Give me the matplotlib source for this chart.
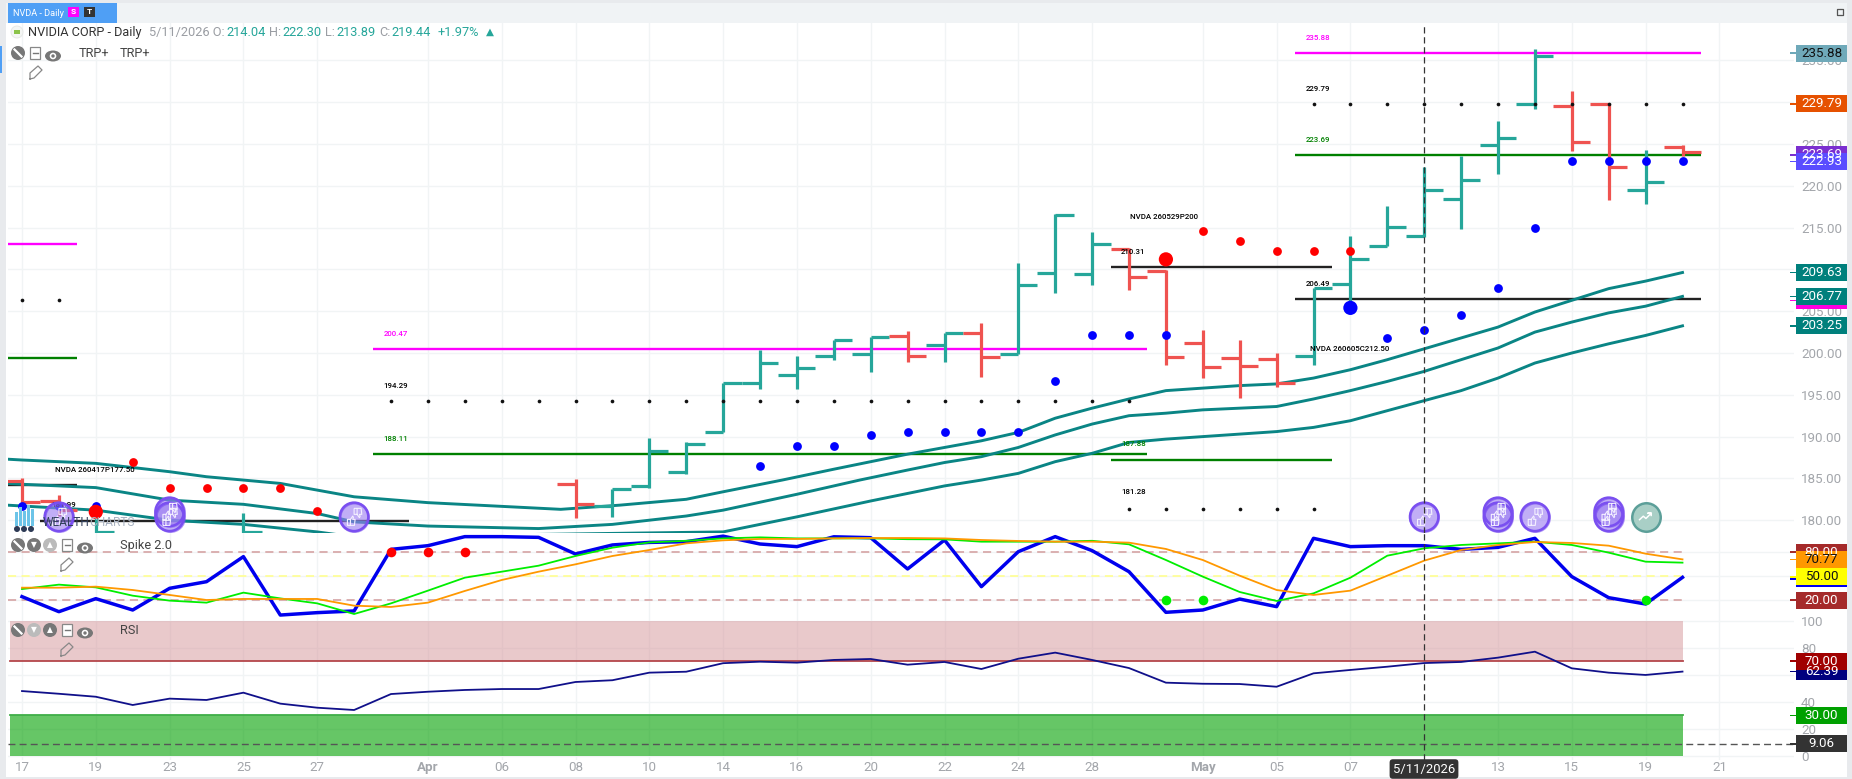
"""
NVDA daily chart with Spike 2.0 and RSI panes, wealthcharts style.
"""

import matplotlib

matplotlib.use("Agg")
import matplotlib.pyplot as plt
import numpy as np
from matplotlib.patches import Circle, Ellipse, Rectangle
from matplotlib.path import Path

plt.rcParams["font.family"] = ["Roboto", "DejaVu Sans"]

W, H = 1852, 779
X0, DX = 22.0, 36.9  # pixel position of bar 0, pixels per bar
PLOT_LEFT, PLOT_RIGHT = 8, 1794
PRICE_TOP, PRICE_BOTTOM = 23, 533
SPIKE_BOTTOM = 620
RSI_BOTTOM = 760

TEAL = "#26a69a"
RED = "#ef5350"
MA_COLOR = "#0a8585"
GRID = "#f1f4f5"
GREY_TXT = "#a3a6ab"

# -- tick labels --------------------------------------------------------------
tick_idx = [0, 2, 4, 6, 8, 11, 13, 15, 17, 19, 21, 23, 25, 27, 29, 32, 34, 36, 40, 42, 44, 46]
tick_labels = ["17", "19", "23", "25", "27", "Apr", "06", "08", "10", "14", "16", "20",
               "22", "24", "28", "May", "05", "07", "13", "15", "19", "21"]

# -- OHLC, bars 0-45 (nan = hidden behind the lower panes) --------------------
nan = float("nan")
opens = [184.7, 182.3, 178.0, nan, nan, nan, 178.0, nan, nan, nan, nan, nan, nan, nan, nan, 184.3,
         181.7, 184.1, 185.8, 190.6, 196.4, 197.4, 199.7, 199.9, 202.0, 201.0, 202.4, 199.9, 209.6,
         209.4, 212.5, 209.8, 201.2, 199.4, 199.3, 199.7, 208.2, 212.8, 214.04, 218.4, 224.9, 229.8,
         229.6, 229.8, 219.5, 224.6]
highs = [185.0, 183.0, 180.9, nan, nan, nan, 180.9, nan, nan, nan, nan, nan, nan, nan, nan, 184.9,
         183.7, 189.8, 189.4, 196.4, 200.3, 199.7, 201.5, 201.9, 202.6, 202.4, 203.6, 210.8, 216.6,
         214.5, 212.6, 209.9, 202.8, 201.5, 200.0, 207.8, 214.0, 217.6, 222.30, 223.6, 227.7, 236.4,
         231.3, 229.8, 224.3, 224.9]
lows = [182.0, 180.5, 178.0, nan, nan, nan, 178.0, nan, nan, nan, nan, nan, nan, nan, nan, 180.3,
        180.4, 183.9, 185.5, 190.6, 195.7, 195.7, 199.2, 197.7, 198.9, 198.9, 197.1, 199.9, 207.2,
        208.1, 207.5, 198.6, 197.0, 194.6, 195.9, 198.6, 206.1, 212.8, 213.89, 214.8, 221.4, 229.2,
        224.2, 218.3, 217.8, 223.6]
closes = [182.2, 181.2, 178.6, nan, nan, nan, 178.6, nan, nan, nan, nan, nan, nan, nan, nan, 181.9,
          183.7, 188.3, 189.1, 196.4, 198.8, 198.2, 201.5, 201.9, 199.7, 202.4, 199.5, 208.1, 216.5,
          213.0, 209.1, 199.5, 198.3, 198.4, 196.4, 207.8, 211.3, 215.1, 219.44, 220.7, 225.7, 235.5,
          225.2, 222.2, 220.4, 224.1]

# -- moving average band ------------------------------------------------------
ma_upper_x = [-0.4, 0, 2, 4, 5, 7, 9, 11, 14.6, 16.2, 18, 19, 20.6, 22, 24, 26, 27, 28, 29, 30, 31,
              32, 33, 34, 35, 36, 37, 38, 39, 40, 41, 42, 43, 44, 45]
ma_upper = [187.3, 187.2, 186.8, 185.8, 185.2, 184.4, 182.8, 182.1, 181.3, 181.8, 182.5, 183.4, 184.8,
            186.1, 187.9, 189.5, 190.5, 192.2, 193.4, 194.5, 195.5, 195.8, 196.1, 196.3, 197.0, 198.0,
            199.2, 200.5, 201.8, 203.1, 204.9, 206.3, 207.7, 208.6, 209.63]
ma_mid_x = [-0.4, 0, 2, 4, 6, 8, 9, 11, 14, 16, 18, 19, 21, 22.7, 24, 25, 26, 27, 28, 29, 30, 31, 32,
            33, 34, 35, 36, 37, 38, 39, 40, 41, 42, 43, 44, 45]
ma_mid = [184.4, 184.3, 183.9, 182.4, 181.9, 180.8, 179.8, 179.3, 179.0, 179.5, 180.5, 181.2, 183.1,
          184.8, 186.0, 186.9, 187.6, 188.7, 190.2, 191.5, 192.5, 192.8, 193.2, 193.4, 193.6, 194.5,
          195.5, 196.6, 197.8, 199.2, 200.6, 202.5, 203.7, 204.8, 205.6, 206.77]
ma_low_x = [-0.4, 0, 2, 4, 6, 8, 9, 19, 21, 23, 25, 26, 27, 28, 29, 30, 31, 32, 33, 34, 35, 36, 37,
            38, 39, 40, 41, 42, 43, 44, 45]
ma_low = [181.8, 181.7, 181.2, 180.0, 179.5, 178.6, 178.0, 178.6, 180.4, 182.3, 184.1, 184.8, 185.6,
          187.0, 188.0, 189.3, 189.7, 190.0, 190.3, 190.6, 191.1, 191.9, 193.1, 194.3, 195.5, 197.0,
          198.8, 200.0, 201.1, 202.1, 203.25]

# -- dots on the price pane ---------------------------------------------------
blue_idx = [0, 1, 2, 20, 21, 22, 23, 24, 25, 26, 27, 28, 29, 30, 31, 37, 38, 39, 40, 41, 42, 43, 44, 45]
blue_val = [181.7, 181.7, 181.7, 186.5, 188.9, 188.9, 190.2, 190.6, 190.6, 190.6, 190.6, 196.6, 202.1,
            202.1, 202.1, 201.8, 202.8, 204.5, 207.8, 215.0, 222.93, 222.93, 222.93, 222.93]
red_idx = [3, 4, 5, 6, 7, 8, 32, 33, 34, 35, 36]
red_val = [187.0, 183.9, 183.9, 183.9, 183.9, 181.1, 214.6, 213.4, 212.2, 212.2, 212.2]
big_idx = [2, 31, 36]
big_val = [181.0, 211.2, 205.4]
big_col = ["#ff0000", "#ff0000", "#0000ff"]
dots_idx = [0, 1] + list(range(10, 31)) + list(range(30, 36)) + list(range(35, 46))
dots_val = [206.3] * 2 + [194.29] * 21 + [181.28] * 6 + [229.79] * 11

# level segments: start bar, end bar, price, colour
seg_start = [-0.4, -0.4, 0.5, -0.4, 9.5, 9.5, 29.5, 29.5, 34.5, 34.5, 34.5]
seg_end = [1.5, 1.5, 10.5, 1.5, 30.5, 30.5, 35.5, 35.5, 45.5, 45.5, 45.5]
seg_val = [213.0, 184.2, 179.9, 199.4, 200.47, 187.9, 210.25, 187.2, 235.88, 206.45, 223.69]
seg_col = ["#ff00ff", "#222222", "#222222", "#008000", "#ff00ff", "#008000", "#222222", "#008000",
           "#ff00ff", "#222222", "#008000"]

# small level captions
cap_text = ["200.47", "194.29", "188.11", "210.31", "187.88", "181.28", "235.88", "229.79", "223.69",
            "206.49", "NVDA 260605C212.50", "NVDA 260529P200", "NVDA 260417P177.50", "181.99"]
cap_idx = [9.8, 9.8, 9.8, 29.78, 29.78, 29.78, 34.8, 34.8, 34.8, 34.8, 34.9, 30.03, 0.9, 0.8]
cap_val = [202.3, 196.1, 189.7, 212.1, 189.1, 183.4, 237.7, 231.6, 225.5, 208.3, 200.5, 216.3, 186.0, 181.8]
cap_col = ["#ff00ff", "black", "#008000", "black", "#008000", "black", "#ff00ff", "black", "#008000",
           "black", "black", "black", "black", "black"]

# signal bubbles
bubble_idx = [1, 4, 4, 9, 38, 40, 40, 41, 43, 43]
bubble_val = [180.4, 181.0, 180.4, 180.4, 180.4, 181.0, 180.4, 180.4, 181.0, 180.4]
trend_idx = [44]
trend_val = [180.4]

# -- Spike 2.0 ----------------------------------------------------------------
spike_blue = [24.2, 5.4, 21.7, 7.5, 34.6, 42.9, 74.2, 1.2, 4.2, 6.3, 83.3, 87.9, 99.2, 99.2, 98.3,
              77.5, 88.8, 92.0, 92.9, 99.8, 90.0, 86.7, 99.0, 97.9, 58.8, 95.0, 36.7, 80.4, 99.2,
              81.7, 55.4, 4.6, 7.5, 21.2, 11.7, 97.1, 86.7, 87.9, 87.9, 83.3, 85.8, 97.1, 49.2,
              22.9, 15.0, 48.3]
spike_green = [33.7, 39.2, 35.8, 25.4, 19.2, 16.7, 29.2, 22.0, 15.8, 2.5, 15.8, 31.7, 47.9, 55.4, 62.9,
               75.0, 85.4, 92.0, 94.0, 97.0, 98.3, 97.0, 97.0, 97.0, 96.0, 95.8, 92.9, 92.9, 92.9,
               94.0, 89.6, 70.0, 49.2, 30.0, 18.8, 28.3, 47.9, 75.4, 84.6, 88.8, 90.8, 92.9, 88.8,
               79.2, 67.9, 66.7]
spike_orange = [35.4, 35.4, 36.7, 32.5, 26.3, 20.0, 21.3, 21.3, 21.3, 12.9, 11.3, 16.7, 31.3, 45.0, 55.4,
                64.6, 75.0, 82.5, 90.8, 94.6, 96.3, 96.3, 97.0, 97.5, 97.5, 97.0, 95.0, 93.8, 92.9,
                92.9, 91.7, 83.8, 70.0, 50.4, 32.5, 26.3, 31.7, 50.4, 69.2, 82.5, 88.8, 92.5, 91.3,
                87.9, 77.9, 70.77]
spike_red_idx = [10, 11, 12]
spike_red_val = [80, 80, 80]
spike_green_idx = [31, 32, 44]
spike_green_val = [20, 20, 20]

# -- RSI ----------------------------------------------------------------------
rsi = [48.0, 46.0, 43.8, 37.7, 42.4, 41.4, 46.8, 38.7, 35.7, 34.0, 45.8, 47.5, 48.8, 49.5, 49.5, 54.7,
       56.0, 61.6, 62.3, 68.6, 69.7, 69.0, 71.0, 71.7, 67.5, 69.5, 64.3, 71.9, 76.4, 71.0, 65.0,
       54.2, 53.4, 53.2, 51.2, 61.1, 63.6, 66.0, 68.7, 69.5, 72.7, 77.1, 64.8, 61.6, 59.9, 62.39]

# right hand value flags: value, text, background, text colour (back to front)
price_flags = [(235.88, "235.88", "#6fa9b9", "#111111"), (229.79, "229.79", "#e65100", "white"),
               (223.69, "223.69", "#7b2fd0", "white"), (222.93, "222.93", "#5a4dff", "white"),
               (209.63, "209.63", "#00807c", "white"), (206.3, "", "#ff00e0", "white"),
               (206.77, "206.77", "#00807c", "white"), (203.25, "203.25", "#00807c", "white")]
spike_flags = [(80.0, "80.00", "#a52a2a", "white"), (70.77, "70.77", "#ff9800", "#111111"),
               (46.5, "", "#0000ee", "white"), (49.0, "50.00", "#ffff00", "#111111"),
               (20.0, "20.00", "#a52a2a", "white")]
rsi_flags = [(62.39, "62.39", "#00007f", "white"), (70.0, "70.00", "#a00000", "white"),
             (30.0, "30.00", "#00a000", "white"), (9.06, "9.06", "#333333", "white")]

fig = plt.figure(figsize=(W / 100, H / 100), dpi=100, facecolor="white")


def pane(top, bottom, ylim):
    ax = fig.add_axes([PLOT_LEFT / W, 1 - bottom / H, (PLOT_RIGHT - PLOT_LEFT) / W, (bottom - top) / H])
    ax.set_xlim((PLOT_LEFT - X0) / DX, (PLOT_RIGHT - X0) / DX)
    ax.set_ylim(*ylim)
    ax.patch.set_alpha(0)
    for side in ax.spines.values():
        side.set_visible(False)
    ax.set_xticks(tick_idx)
    ax.set_xticklabels([])
    ax.yaxis.tick_right()
    ax.tick_params(length=0, labelsize=9.6, labelcolor=GREY_TXT, pad=5)
    ax.grid(True, color=GRID, linewidth=1)
    ax.set_axisbelow(True)
    return ax


def price_y(px):
    return 225 - (px - 144) / 8.36


def spike_y(px):
    return 50 + (576 - px) / 0.8


def rsi_y(px):
    return (756 - px) / 1.353


ax_p = pane(PRICE_TOP, PRICE_BOTTOM, (price_y(PRICE_BOTTOM), price_y(PRICE_TOP)))
ax_s = pane(PRICE_BOTTOM, SPIKE_BOTTOM, (spike_y(SPIKE_BOTTOM), spike_y(PRICE_BOTTOM)))
ax_r = pane(SPIKE_BOTTOM, RSI_BOTTOM, (rsi_y(RSI_BOTTOM), rsi_y(SPIKE_BOTTOM)))

# -- price pane ---------------------------------------------------------------
ax_p.set_yticks(np.arange(180, 240, 5))
ax_p.set_yticklabels([f"{v:.2f}" for v in np.arange(180, 240, 5)])

ax_p.hlines(seg_val, seg_start, seg_end, colors=seg_col, linewidth=1.7, zorder=2)

ax_p.plot(ma_upper_x, ma_upper, color=MA_COLOR, linewidth=2.1, zorder=3)
ax_p.plot(ma_mid_x, ma_mid, color=MA_COLOR, linewidth=2.1, zorder=3)
ax_p.plot(ma_low_x, ma_low, color=MA_COLOR, linewidth=2.1, zorder=3)

for i in range(len(opens)):
    if np.isnan(opens[i]):
        continue
    col = TEAL if closes[i] >= opens[i] else RED
    ax_p.vlines(i, lows[i], highs[i], color=col, linewidth=2.3, zorder=4)
    ax_p.hlines(opens[i], i - 0.5, i, color=col, linewidth=2.3, zorder=4)
    ax_p.hlines(closes[i], i, i + 0.5, color=col, linewidth=2.3, zorder=4)

ax_p.scatter(dots_idx, dots_val, s=7, color="#111111", zorder=5, linewidths=0)
ax_p.scatter(blue_idx, blue_val, s=40, color="#0000ff", zorder=6, linewidths=0)
ax_p.scatter(red_idx, red_val, s=40, color="#ff0000", zorder=6, linewidths=0)
ax_p.scatter(big_idx, big_val, s=105, color=big_col, zorder=6, linewidths=0)

for t, i, v, c in zip(cap_text, cap_idx, cap_val, cap_col):
    ax_p.text(i, v, t, color=c, fontsize=5.7, fontweight="medium", ha="left", va="center", zorder=7)

# signal bubbles with thumbs up / thumbs down glyph
thumb_up = [(-1.0, -1.275), (-1.0, -0.375), (-0.55, -0.375), (-0.2, 0.125), (-0.1, -0.075), (-0.2, -0.375),
            (0.15, -0.375), (0.05, -1.275), (-1.0, -1.275), (-0.55, -1.275), (-0.55, -0.375)]
thumb_dn = [(x + 1.0, -y) for x, y in thumb_up]
thumb_codes = [Path.MOVETO] + [Path.LINETO] * 8 + [Path.MOVETO, Path.LINETO]
thumbs = Path(thumb_up + thumb_dn, thumb_codes + thumb_codes)
ax_p.scatter(bubble_idx, bubble_val, s=420, facecolor="#9b7df2", edgecolor="#7a4ff0", alpha=0.62,
             linewidths=1.8, zorder=8)
ax_p.scatter(bubble_idx, bubble_val, s=420, facecolor="none", edgecolor="#7a4ff0",
             linewidths=1.8, zorder=8)
ax_p.scatter(bubble_idx, bubble_val, s=150, marker=thumbs, facecolor="none", edgecolor="#f4f0ff",
             linewidths=0.8, zorder=9)
trend = Path([(-1, -0.5), (-0.35, 0.1), (0.05, -0.25), (0.85, 0.55), (0.35, 0.55), (0.85, 0.55), (0.85, 0.1)])
ax_p.scatter(trend_idx, trend_val, s=420, facecolor="#a9cfc6", edgecolor="#5c9f99", linewidths=1.8, zorder=8)
ax_p.scatter(trend_idx, trend_val, s=90, marker=trend, facecolor="none", edgecolor="white",
             linewidths=1.1, zorder=9)

# -- spike pane ---------------------------------------------------------------
ax_s.set_yticks([20, 50, 80])
ax_s.set_yticklabels([])
ax_s.set_zorder(2)
ax_s.patch.set_facecolor("white")
ax_s.patch.set_alpha(1)
dash = (0, (4.5, 3))
band_end = (45 * DX + X0 - PLOT_LEFT) / (PLOT_RIGHT - PLOT_LEFT)
ax_s.axhline(80, color="#d8aaaa", linewidth=1.3, linestyle=dash, xmax=band_end)
ax_s.axhline(20, color="#d8aaaa", linewidth=1.3, linestyle=dash, xmax=band_end)
ax_s.axhline(50, color="#ffff99", linewidth=1.3, linestyle=dash, xmax=band_end)
xs = np.arange(len(spike_blue))
ax_s.plot(xs, spike_blue, color="#0000ee", linewidth=2.5, zorder=3)
ax_s.plot(xs, spike_green, color="#00ee00", linewidth=1.3, zorder=4)
ax_s.plot(xs, spike_orange, color="#ff9800", linewidth=1.3, zorder=4)
ax_s.scatter(spike_red_idx, spike_red_val, s=48, color="#ff0000", zorder=5, linewidths=0)
ax_s.scatter(spike_green_idx, spike_green_val, s=48, color="#00ee00", zorder=5, linewidths=0)

# -- RSI pane -----------------------------------------------------------------
ax_r.set_yticks([0, 20, 40, 60, 80, 100])
ax_r.set_yticklabels(["0", "20", "40", "60", "80", "100"])
ax_r.set_xticklabels(tick_labels)
ax_r.tick_params(axis="x", labelsize=9.6, labelcolor=GREY_TXT, pad=1)
for lab in ax_r.get_xticklabels():
    if lab.get_text() in ("Apr", "May"):
        lab.set_fontweight("bold")
ax_r.set_zorder(2)
ax_r.patch.set_facecolor("white")
ax_r.patch.set_alpha(1)
xb = np.array([(PLOT_LEFT - X0) / DX + 0.05, 45])
ax_r.fill_between(xb, 70, 100, color="#d38f93", alpha=0.48, linewidth=0, zorder=2)
ax_r.fill_between(xb, 0, 30, color="#00a000", alpha=0.6, linewidth=0, zorder=2)
ax_r.plot(xb, [70, 70], color="#b4474b", linewidth=1.3, zorder=3)
ax_r.plot(xb, [30, 30], color="#3fae48", linewidth=1.3, zorder=3)
ax_r.axhline(9.06, color="#555555", linewidth=1, linestyle=(0, (5, 3)), zorder=3)
ax_r.plot(np.arange(len(rsi)), rsi, color="#10108a", linewidth=1.3, zorder=4)

# crosshair through all panes
for ax in (ax_p, ax_s, ax_r):
    ax.axvline(38, color="#333333", linewidth=0.9, linestyle=(0, (5, 3)), zorder=10)

# -- chrome in pixel coordinates ----------------------------------------------
ui = fig.add_axes([0, 0, 1, 1], zorder=5)
ui.set_xlim(0, W)
ui.set_ylim(H, 0)
ui.axis("off")
ui.patch.set_alpha(0)


def rect(x, y, w, h, color, **kw):
    ui.add_patch(Rectangle((x, y), w, h, facecolor=color, edgecolor="none", **kw))


def flag(ax, value, label, bg, fg):
    ypx = H - ax.transData.transform((0, value))[1]
    rect(1796, ypx - 8.5, 51, 17, bg)
    rect(1790, ypx - 0.8, 6, 1.6, bg)
    if label:
        ui.text(1821.5, ypx, label, color=fg, fontsize=9.6, ha="center", va="center")


rect(0, 0, W, 3, "#e8eaed")
rect(0, 0, 6, H, "#e8eaed")
rect(W - 5, 0, 5, H, "#e8eaed")
rect(0, H - 2, W, 2, "#e8eaed")
rect(6, 3, W - 11, 20, "#f0f3f5")
rect(8, 3, 109, 19.5, "#4f9ff5")
rect(0, 46, 1.5, 27, "#4f9ff5")
ui.text(13, 13, "NVDA - Daily", color="white", fontsize=6.6, va="center")
rect(68, 6.5, 11, 10, "#ff00ff")
ui.text(73.5, 11.7, "S", color="white", fontsize=6, ha="center", va="center", fontweight="bold")
rect(84, 6.5, 11, 10, "#333333")
ui.text(89.5, 11.7, "T", color="white", fontsize=6, ha="center", va="center", fontweight="bold")

# fullscreen button, four small corners
for sx, sy in [(-1, -1), (1, -1), (-1, 1), (1, 1)]:
    cx, cy = 1840 + sx * 3, 12 + sy * 3
    ui.plot([cx, cx, cx - sx * 2.5], [cy - sy * 2.5, cy, cy], color="#555555", linewidth=0.9)

ui.add_patch(Circle((17, 32), 6, facecolor="#f4f6f4", edgecolor="#e4e6e4", linewidth=0.6))
ui.add_patch(Rectangle((14, 30), 6, 4, facecolor="#8bc34a", edgecolor="none"))
ui.text(28, 32, "NVIDIA CORP - Daily", color="#333333", fontsize=9.2, va="center")
head = [(149, "5/11/2026 O:", "#9a9da3"), (226, "214.04", TEAL), (269, "H:", "#9a9da3"), (282, "222.30", TEAL),
        (325, "L:", "#9a9da3"), (336, "213.89", TEAL), (379, "C:", "#9a9da3"), (391, "219.44", TEAL),
        (438, "+1.97%", TEAL), (486, "▲", TEAL)]
for x, t, c in head:
    ui.text(x, 32, t, color=c, fontsize=9.2 if t != "▲" else 7.5, va="center")


def pane_icons(y, circles, minus_x, eye_x, pencil_x, title, title_x):
    for cx, shade, glyph in circles:
        ui.add_patch(Circle((cx, y), 7, facecolor=shade, edgecolor="none"))
        if glyph:
            ui.text(cx, y, glyph, color="white", fontsize=5.5, ha="center", va="center")
        else:
            ui.plot([cx - 3.5, cx + 3.5], [y - 3.5, y + 3.5], color="white", linewidth=1.6)
    ui.add_patch(Rectangle((minus_x - 5, y - 6), 10, 12, facecolor="white", edgecolor="#888888", linewidth=0.9))
    ui.plot([minus_x - 2.5, minus_x + 2.5], [y, y], color="#777777", linewidth=1)
    ui.add_patch(Ellipse((eye_x, y + 3), 16, 11, facecolor="#777777", edgecolor="none"))
    ui.add_patch(Circle((eye_x, y + 3), 3.3, facecolor="white", edgecolor="none"))
    ui.add_patch(Circle((eye_x, y + 3), 1.7, facecolor="#777777", edgecolor="none"))
    ui.plot([pencil_x - 5, pencil_x - 5, pencil_x + 3, pencil_x + 7, pencil_x - 1, pencil_x - 5],
            [y + 26, y + 20, y + 13, y + 17, y + 25, y + 26], color="#888888", linewidth=0.9)
    for t, tx in zip(title, title_x):
        ui.text(tx, y, t, color="#444444", fontsize=9.2, va="center")


pane_icons(53, [(18, "#777777", "")], 35, 53, 35, ["TRP+", "TRP+"], [79, 120])
pane_icons(545, [(18, "#777777", ""), (34, "#777777", "▼"), (50, "#bbbbbb", "▲")], 67, 85, 66, ["Spike 2.0"], [120])
pane_icons(630, [(18, "#777777", ""), (34, "#bbbbbb", "▼"), (50, "#777777", "▲")], 67, 85, 66, ["RSI"], [120])

# wealthcharts watermark
for bx, bh in zip([16, 20, 24, 28, 32], [14, 19, 15, 21, 17]):
    rect(bx - 1.5, 526 - bh, 3.4, bh, "#6cc4e8")
for bx in (17, 24, 31):
    ui.add_patch(Circle((bx, 529), 3, facecolor="#2d3a55", edgecolor="none"))
ui.text(43, 523, "WEALTH", color="#33415c", fontsize=8.6, va="center", zorder=6)
ui.text(89, 523, "CHARTS", color="#a9b3c2", fontsize=8.6, va="center", zorder=6)

for v, t, b, f in price_flags:
    flag(ax_p, v, t, b, f)
for v, t, b, f in spike_flags:
    flag(ax_s, v, t, b, f)
for v, t, b, f in rsi_flags:
    flag(ax_r, v, t, b, f)

# crosshair date box
ui.text(1424, 769, "5/11/2026", color="white", fontsize=9.4, ha="center", va="center",
        bbox=dict(boxstyle="round,pad=0.25", facecolor="#333333", edgecolor="none"))

fig.savefig("out.png", dpi=100)
